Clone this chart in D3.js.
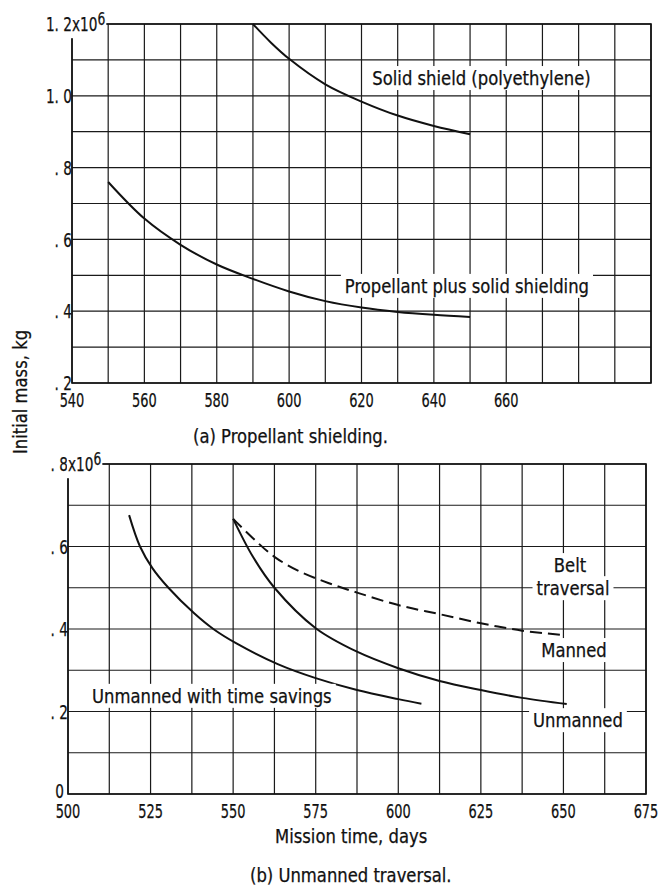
<!DOCTYPE html>
<html lang="en">
<head>
    <meta charset="utf-8" />
    <title>Initial mass vs mission time</title>
    <script src="https://d3js.org/d3.v7.min.js"></script>
    <style>
        body {
            margin: 0;
            padding: 0;
            background: white;
        }
        text {
            font-family: "DejaVu Sans Condensed", "DejaVu Sans", sans-serif;
            fill: #111;
            stroke: #111;
            stroke-width: 0.25px;
        }
    </style>
</head>
<body>
<svg id="chart"></svg>
<script>
    var w = 660;
    var h = 890;

    // (a) Propellant shielding - mission time (days) vs initial mass (x10^6 kg)
    var solidDays = [590, 595, 600, 610, 620, 630, 640, 650];
    var solidMass = [1.2, 1.148, 1.103, 1.032, 0.984, 0.945, 0.916, 0.893];
    var propDays = [550, 560, 570, 580, 590, 600, 610, 620, 630, 640, 650];
    var propMass = [0.76, 0.658, 0.585, 0.53, 0.49, 0.455, 0.428, 0.41, 0.398, 0.39, 0.384];

    // (b) Unmanned traversal
    var savDays = [518.5, 521.8, 525.6, 530.4, 538.2, 544, 551, 563.5, 575, 587.5, 600, 607];
    var savMass = [0.676, 0.6, 0.547, 0.5, 0.438, 0.4, 0.365, 0.315, 0.281, 0.252, 0.23, 0.219];
    var unDays = [550, 556, 562.5, 575, 587.5, 600, 612.5, 625, 637.5, 651];
    var unMass = [0.667, 0.575, 0.5, 0.402, 0.345, 0.305, 0.274, 0.252, 0.233, 0.218];
    var manDays = [550, 556, 562.5, 570, 579, 588, 600, 612.5, 625, 637.5, 650.5];
    var manMass = [0.667, 0.62, 0.575, 0.54, 0.511, 0.487, 0.458, 0.436, 0.414, 0.396, 0.385];

    // tick labels
    var topXTicks = [540, 560, 580, 600, 620, 640, 660];
    var topYTicks = [0.2, 0.4, 0.6, 0.8, 1.0, 1.2];
    var botXTicks = [500, 525, 550, 575, 600, 625, 650, 675];
    var botYTicks = [0, 0.2, 0.4, 0.6, 0.8];

    var svg = d3.select("#chart")
        .attr("width", w)
        .attr("height", h);

    svg.append("rect")
        .attr("width", w)
        .attr("height", h)
        .attr("fill", "white");

    // squeeze text horizontally to look like the condensed typewriter face
    function squeeze(sel, k) {
        sel.each(function() {
            var len = this.getComputedTextLength();
            d3.select(this)
                .attr("textLength", len * k)
                .attr("lengthAdjust", "spacingAndGlyphs");
        });
    }

    function massLabel(v) {
        if (v === 0) return "0";
        var tenths = Math.round(v * 10);
        if (tenths < 10) return ". " + tenths;
        return "1. " + (tenths - 10);
    }

    function panel(cfg) {
        var g = svg.append("g");
        var x = d3.scaleLinear().domain(cfg.xDomain).range([cfg.left, cfg.right]);
        var y = d3.scaleLinear().domain(cfg.yDomain).range([cfg.bottom, cfg.top]);

        var gridG = g.append("g");
        var labelG = g.append("g");

        // vertical grid
        gridG.selectAll("line.v")
            .data(d3.range(cfg.xDomain[0], cfg.xDomain[1] + 0.01, cfg.xStep))
            .enter().append("line")
            .attr("x1", function(d) { return x(d); })
            .attr("x2", function(d) { return x(d); })
            .attr("y1", cfg.top)
            .attr("y2", cfg.bottom)
            .attr("stroke", "#1a1a1a")
            .attr("stroke-width", 1.2);

        // horizontal grid (0.1 steps)
        var n = Math.round((cfg.yDomain[1] - cfg.yDomain[0]) * 10);
        gridG.selectAll("line.h")
            .data(d3.range(0, n + 1).map(function(i) { return cfg.yDomain[0] + i / 10; }))
            .enter().append("line")
            .attr("x1", cfg.left)
            .attr("x2", cfg.right)
            .attr("y1", function(d) { return y(d); })
            .attr("y2", function(d) { return y(d); })
            .attr("stroke", "#1a1a1a")
            .attr("stroke-width", 1.2);

        gridG.append("rect")
            .attr("x", cfg.left)
            .attr("y", cfg.top)
            .attr("width", cfg.right - cfg.left)
            .attr("height", cfg.bottom - cfg.top)
            .attr("fill", "none")
            .attr("stroke", "#111")
            .attr("stroke-width", 1.6);

        // x tick labels
        g.selectAll("text.xt")
            .data(cfg.xTicks)
            .enter().append("text")
            .attr("x", function(d) { return x(d); })
            .attr("y", cfg.bottom + 24)
            .attr("text-anchor", "middle")
            .attr("font-size", "20px")
            .text(function(d) { return d; })
            .call(squeeze, 0.72);

        // y tick labels
        g.selectAll("text.yt")
            .data(cfg.yTicks)
            .enter().append("text")
            .attr("x", function(d) { return d === 0 ? cfg.left - 4 : cfg.left; })
            .attr("y", function(d) { return y(d); })
            .attr("dy", function(d) { return d === 0 ? "0.2em" : "0.36em"; })
            .attr("text-anchor", "end")
            .attr("font-size", "20px")
            .text(massLabel)
            .call(squeeze, 0.76);

        // exponent on the top tick, sitting inside the grid on a white patch
        var expG = labelG.append("g");
        var yTop = y(cfg.yTicks[cfg.yTicks.length - 1]);
        var base = expG.append("text")
            .attr("x", cfg.left)
            .attr("y", yTop)
            .attr("dy", "0.36em")
            .attr("font-size", "20px")
            .text("x10")
            .call(squeeze, 0.76);
        var bb = base.node().getBBox();
        expG.append("text")
            .attr("x", bb.x + bb.width)
            .attr("y", yTop)
            .attr("dy", "0.05em")
            .attr("font-size", "18px")
            .text("6")
            .call(squeeze, 0.76);
        var eb = expG.node().getBBox();
        expG.insert("rect", ":first-child")
            .attr("x", eb.x - 1)
            .attr("y", eb.y)
            .attr("width", eb.width + 2)
            .attr("height", eb.height + 2)
            .attr("fill", "white");

        return { g: g, x: x, y: y, labelG: labelG };
    }

    function curve(p, days, mass, dashed) {
        var pts = days.map(function(d, i) { return [d, mass[i]]; });
        var line = d3.line()
            .x(function(d) { return p.x(d[0]); })
            .y(function(d) { return p.y(d[1]); })
            .curve(d3.curveCatmullRom.alpha(0.5));
        p.g.append("path")
            .datum(pts)
            .attr("d", line)
            .attr("fill", "none")
            .attr("stroke", "#111")
            .attr("stroke-width", 2)
            .attr("stroke-dasharray", dashed ? "12,6" : null);
    }

    // curve labels with white patches behind them
    function note(p, day, mass, txt, anchor) {
        var ng = p.labelG.append("g");
        var t = ng.append("text")
            .attr("x", p.x(day))
            .attr("y", p.y(mass))
            .attr("text-anchor", anchor)
            .attr("font-size", "19px")
            .text(txt)
            .call(squeeze, 0.96);
        var b = t.node().getBBox();
        ng.insert("rect", ":first-child")
            .attr("x", b.x - 4)
            .attr("y", b.y - 1)
            .attr("width", b.width + 8)
            .attr("height", b.height + 2)
            .attr("fill", "white");
    }

    // ---- (a) Propellant shielding
    var pa = panel({
        xDomain: [540, 700], yDomain: [0.2, 1.2], xStep: 10,
        left: 72, right: 651, top: 24, bottom: 383,
        xTicks: topXTicks, yTicks: topYTicks
    });
    note(pa, 623, 1.03, "Solid shield (polyethylene)", "start");
    note(pa, 615.4, 0.451, "Propellant plus solid shielding", "start");
    curve(pa, solidDays, solidMass, false);
    curve(pa, propDays, propMass, false);
    pa.labelG.raise();

    // ---- (b) Unmanned traversal
    var pb = panel({
        xDomain: [500, 675], yDomain: [0, 0.8], xStep: 12.5,
        left: 68, right: 646, top: 464, bottom: 794,
        xTicks: botXTicks, yTicks: botYTicks
    });
    note(pb, 652, 0.538, "Belt", "middle");
    note(pb, 652.9, 0.482, "traversal", "middle");
    note(pb, 653.2, 0.332, "Manned", "middle");
    note(pb, 654.4, 0.162, "Unmanned", "middle");
    note(pb, 507.3, 0.221, "Unmanned with time savings", "start");
    curve(pb, manDays, manMass, true);
    curve(pb, unDays, unMass, false);
    curve(pb, savDays, savMass, false);
    pb.labelG.raise();

    // titles and captions
    svg.append("text")
        .attr("transform", "translate(27,392) rotate(-90)")
        .attr("text-anchor", "middle")
        .attr("font-size", "19px")
        .text("Initial mass, kg")
        .call(squeeze, 0.96);

    svg.append("text")
        .attr("x", 193)
        .attr("y", 443)
        .attr("font-size", "19px")
        .text("(a) Propellant shielding.")
        .call(squeeze, 0.96);

    svg.append("text")
        .attr("x", 275)
        .attr("y", 843)
        .attr("font-size", "19px")
        .text("Mission time, days")
        .call(squeeze, 0.96);

    svg.append("text")
        .attr("x", 250)
        .attr("y", 882)
        .attr("font-size", "19px")
        .text("(b) Unmanned traversal.")
        .call(squeeze, 0.96);
</script>
</body>
</html>
